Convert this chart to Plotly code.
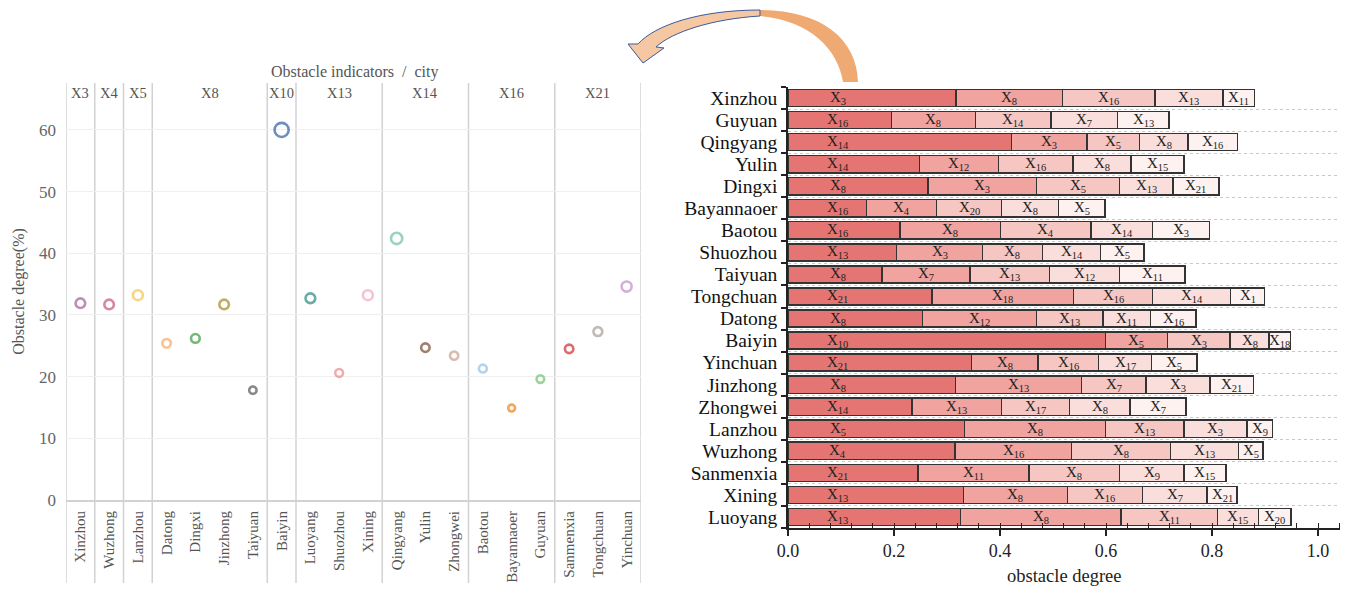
import plotly.graph_objects as go

# page is 1348x594; the html body has an 8px margin, so the figure is 1332x578 offset by 8px
OFF = 8
W, H = 1332, 578
SERIF = "Liberation Serif, Times New Roman, serif"

# ---------------- left chart data ----------------
left_cities = ["Xinzhou", "Wuzhong", "Lanzhou", "Datong", "Dingxi", "Jinzhong", "Taiyuan",
               "Baiyin", "Luoyang", "Shuozhou", "Xining", "Qingyang", "Yulin", "Zhongwei",
               "Baotou", "Bayannaoer", "Guyuan", "Sanmenxia", "Tongchuan", "Yinchuan"]
left_groups = ["X3", "X4", "X5", "X8", "X8", "X8", "X8", "X10", "X13", "X13", "X13",
               "X14", "X14", "X14", "X16", "X16", "X16", "X21", "X21", "X21"]
left_values = [31.9, 31.7, 33.2, 25.4, 26.2, 31.7, 17.8, 60.0, 32.7, 20.6, 33.2,
               42.4, 24.7, 23.4, 21.3, 14.9, 19.6, 24.5, 27.3, 34.6]
left_colors = ["#a0609e", "#c9527c", "#f2c34f", "#f7a865", "#3d9a3d", "#a8891e", "#555555",
               "#2f5f9f", "#2a8a80", "#f08686", "#f2a6c6", "#6fbea8", "#7a4a30", "#c9a08c",
               "#8fc1e8", "#f07f12", "#6cc46c", "#d62a2c", "#a89c94", "#c18cc4"]

# ---------------- right chart data ----------------
right_cities = ["Xinzhou", "Guyuan", "Qingyang", "Yulin", "Dingxi", "Bayannaoer", "Baotou",
                "Shuozhou", "Taiyuan", "Tongchuan", "Datong", "Baiyin", "Yinchuan", "Jinzhong",
                "Zhongwei", "Lanzhou", "Wuzhong", "Sanmenxia", "Xining", "Luoyang"]
rank1_values = [0.317, 0.195, 0.422, 0.248, 0.264, 0.148, 0.211, 0.205, 0.177, 0.272,
                0.254, 0.599, 0.346, 0.316, 0.234, 0.333, 0.315, 0.245, 0.331, 0.325]
rank2_values = [0.201, 0.159, 0.142, 0.149, 0.205, 0.132, 0.190, 0.162, 0.166, 0.267,
                0.215, 0.117, 0.126, 0.238, 0.169, 0.266, 0.220, 0.210, 0.196, 0.303]
rank3_values = [0.174, 0.142, 0.099, 0.141, 0.156, 0.123, 0.171, 0.113, 0.150, 0.149,
                0.125, 0.118, 0.114, 0.121, 0.128, 0.148, 0.187, 0.170, 0.142, 0.182]
rank4_values = [0.129, 0.126, 0.092, 0.109, 0.101, 0.107, 0.116, 0.110, 0.132, 0.147,
                0.090, 0.074, 0.100, 0.121, 0.114, 0.119, 0.128, 0.122, 0.122, 0.078]
rank5_values = [0.059, 0.097, 0.093, 0.100, 0.087, 0.088, 0.107, 0.082, 0.124, 0.064,
                0.086, 0.040, 0.086, 0.082, 0.106, 0.048, 0.046, 0.079, 0.056, 0.061]
rank1_labels = ["3", "16", "14", "14", "8", "16", "16", "13", "8", "21",
                "8", "10", "21", "8", "14", "5", "4", "21", "13", "13"]
rank2_labels = ["8", "8", "3", "12", "3", "4", "8", "3", "7", "18",
                "12", "5", "8", "13", "13", "8", "16", "11", "8", "8"]
rank3_labels = ["16", "14", "5", "16", "5", "20", "4", "8", "13", "16",
                "13", "3", "16", "7", "17", "13", "8", "8", "16", "11"]
rank4_labels = ["13", "7", "8", "8", "13", "8", "14", "14", "12", "14",
                "11", "8", "17", "3", "8", "3", "13", "9", "7", "15"]
rank5_labels = ["11", "13", "16", "15", "21", "5", "3", "5", "11", "1",
                "16", "18", "5", "21", "7", "9", "5", "15", "21", "20"]
x_ticks = [0.0, 0.2, 0.4, 0.6, 0.8, 1.0]
y_ticks_left = [0, 10, 20, 30, 40, 50, 60]

rank_values = [rank1_values, rank2_values, rank3_values, rank4_values, rank5_values]
rank_labels = [rank1_labels, rank2_labels, rank3_labels, rank4_labels, rank5_labels]
rank_colors = ["#e57573", "#f0a39f", "#f6c6c3", "#fadedb", "#fdf2f0"]


def fx(p):
    return (p - OFF) / W


def fy(p):
    return 1 - (p - OFF) / H


def pt(x, y):
    return f"{fx(x):.5f},{fy(y):.5f}"


fig = go.Figure()

# ---------- left: dot plot ----------
fig.add_trace(go.Scatter(
    x=left_cities, y=left_values, mode="markers", xaxis="x", yaxis="y",
    marker=dict(symbol="circle-open", color=left_colors,
                size=[4.5 + 0.16 * v for v in left_values],
                line=dict(width=2.6, color=left_colors)),
    showlegend=False, hoverinfo="x+y"))

shapes = []
annotations = []

# group boundaries & headers
bounds = [-0.5]
spans = []
i = 0
while i < len(left_groups):
    j = i
    while j < len(left_groups) and left_groups[j] == left_groups[i]:
        j += 1
    spans.append((left_groups[i], i, j - 1))
    bounds.append(j - 0.5)
    i = j
for b in bounds:
    shapes.append(dict(type="line", xref="x", yref="paper", x0=b, x1=b,
                       y0=fy(583), y1=fy(83),
                       line=dict(color="#d2d2d2", width=1.5), layer="below"))
for g, a, b in spans:
    annotations.append(dict(xref="x", yref="paper", x=(a + b) / 2, y=fy(93),
                            xanchor="center", yanchor="middle",
                            text=g, showarrow=False,
                            font=dict(family=SERIF, size=14.5, color="#555555")))
annotations.append(dict(xref="paper", yref="paper", x=fx(355), y=fy(72),
                        xanchor="center", yanchor="middle",
                        text="Obstacle indicators  /  city", showarrow=False,
                        font=dict(family=SERIF, size=16, color="#555555")))

# ---------- right: stacked bars ----------
for r in range(5):
    fig.add_trace(go.Bar(
        x=rank_values[r], y=right_cities, orientation="h", xaxis="x2", yaxis="y2",
        width=0.78, showlegend=False,
        marker=dict(color=rank_colors[r], line=dict(color="#333333", width=1.5))))

for k, city in enumerate(right_cities):
    base = 0.0
    for r in range(5):
        w = rank_values[r][k]
        xc = 0.094 if r == 0 else base + w / 2
        annotations.append(dict(xref="x2", yref="y2", x=xc, y=city,
                                xanchor="center", yanchor="middle",
                                text=f"X<sub>{rank_labels[r][k]}</sub>", showarrow=False,
                                font=dict(family=SERIF, size=15, color="#222222")))
        base += w

# x-axis title of the right chart
annotations.append(dict(xref="paper", yref="paper", x=fx(1064), y=fy(576),
                        xanchor="center", yanchor="middle",
                        text="obstacle degree", showarrow=False,
                        font=dict(family=SERIF, size=18.5, color="#222222")))

# ---------- decorative curved arrow ----------
body = ("M " + pt(858, 82) + " C " + pt(857, 38) + " " + pt(820, 10) + " " + pt(760, 10) +
        " C " + pt(700, 10) + " " + pt(655, 25) + " " + pt(638, 44) +
        " L " + pt(628, 44) + " L " + pt(643, 63) + " L " + pt(664, 48) + " L " + pt(656, 47) +
        " C " + pt(672, 32) + " " + pt(712, 19) + " " + pt(760, 16) +
        " C " + pt(808, 20) + " " + pt(838, 48) + " " + pt(843, 82) + " Z")
shapes.append(dict(type="path", xref="paper", yref="paper", path=body,
                   fillcolor="#efaa74", line=dict(width=0)))
left_part = ("M " + pt(760, 10) + " C " + pt(700, 10) + " " + pt(655, 25) + " " + pt(638, 44) +
             " L " + pt(628, 44) + " L " + pt(643, 63) + " L " + pt(664, 48) + " L " + pt(656, 47) +
             " C " + pt(672, 32) + " " + pt(712, 19) + " " + pt(760, 16) + " Z")
shapes.append(dict(type="path", xref="paper", yref="paper", path=left_part,
                   fillcolor="#f5c7a3", line=dict(color="#3d5d9c", width=1)))

fig.update_layout(
    width=W, height=H, margin=dict(l=0, r=0, t=0, b=0, autoexpand=False),
    paper_bgcolor="white", plot_bgcolor="white",
    barmode="stack",
    font=dict(family=SERIF),
    shapes=shapes, annotations=annotations,
    xaxis=dict(domain=[fx(66), fx(641)], anchor="y", type="category", automargin=False,
               range=[-0.5, 19.5], tickangle=-90, showgrid=False,
               tickmode="array", tickvals=left_cities,
               showline=True, linecolor="#d2d2d2", linewidth=2, ticks="",
               tickfont=dict(family=SERIF, size=15, color="#555555"),
               ticklabelstandoff=3),
    yaxis=dict(domain=[fy(500), fy(83)], anchor="x", range=[0, 67.6], automargin=False,
               tickvals=y_ticks_left, showgrid=True, gridcolor="#efefef", gridwidth=1,
               zeroline=False, showline=False, ticks="", ticklabelstandoff=9,
               tickfont=dict(family=SERIF, size=17, color="#666666"),
               title=dict(text="Obstacle degree(%)", standoff=10,
                          font=dict(family=SERIF, size=16, color="#555555"))),
    xaxis2=dict(domain=[fx(788), fx(1340)], anchor="y2", range=[0, 1.0415], automargin=False,
                tickvals=x_ticks, tickformat=".1f", ticks="outside", ticklen=6,
                tickwidth=1.5, tickcolor="#222222", showgrid=False, zeroline=False,
                showline=True, linecolor="#222222", linewidth=1.5,
                minor=dict(ticks="inside", dtick=0.04, tick0=0, ticklen=5,
                           tickwidth=1.2, tickcolor="#222222", showgrid=False),
                tickfont=dict(family=SERIF, size=18, color="#222222")),
    yaxis2=dict(domain=[fy(528), fy(87)], anchor="x2", type="category", automargin=False,
                autorange="reversed", tickson="boundaries", ticks="outside", ticklen=5,
                tickmode="array", tickvals=right_cities, ticklabelstandoff=5,
                tickwidth=1.5, tickcolor="#222222", showgrid=True, gridcolor="#c8c8c8",
                griddash="dot", gridwidth=1, showline=True, linecolor="#222222",
                linewidth=1.5, zeroline=False,
                tickfont=dict(family=SERIF, size=19.5, color="#111111")),
)

fig.write_html("out.html")
